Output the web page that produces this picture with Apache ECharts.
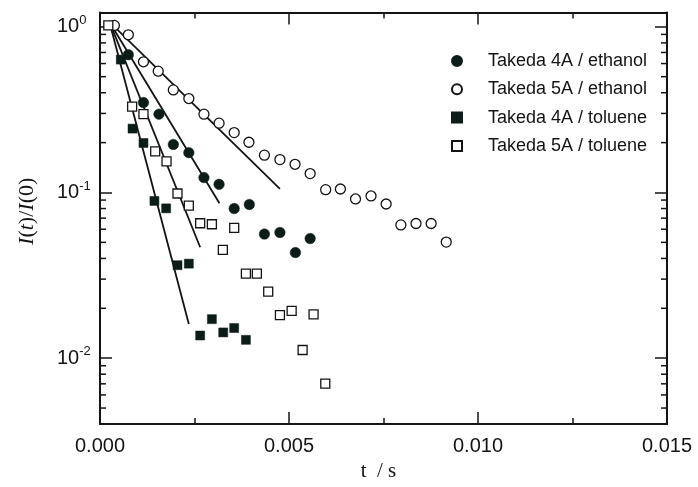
<!DOCTYPE html>
<html>
<head>
<meta charset="utf-8">
<script src="https://cdn.jsdelivr.net/npm/echarts@6/dist/echarts.min.js"></script>
<style>
html,body{margin:0;padding:0;background:#fff;}
#c{width:698px;height:487px;}
</style>
</head>
<body>
<div id="c"></div>
<script>
// ---- data (t in seconds, I(t)/I(0)) ----
var seriesNames = ['Takeda 4A / ethanol', 'Takeda 5A / ethanol', 'Takeda 4A / toluene', 'Takeda 5A / toluene'];

var t4AEth = [0.00075, 0.00115, 0.00156, 0.00194, 0.00235, 0.00275, 0.00315, 0.00355, 0.00395, 0.00435, 0.00476, 0.00517, 0.00556];
var v4AEth = [0.679, 0.349, 0.297, 0.195, 0.174, 0.123, 0.112, 0.080, 0.0847, 0.0561, 0.0574, 0.0434, 0.0527];

var t5AEth = [0.00038, 0.00075, 0.00115, 0.00154, 0.00194, 0.00235, 0.00275, 0.00315, 0.00355, 0.00394, 0.00435, 0.00476, 0.00516, 0.00556, 0.00597, 0.00636, 0.00676, 0.00717, 0.00757, 0.00796, 0.00836, 0.00876, 0.00916];
var v5AEth = [1.02, 0.895, 0.615, 0.54, 0.416, 0.369, 0.297, 0.262, 0.230, 0.201, 0.168, 0.158, 0.148, 0.130, 0.104, 0.105, 0.0914, 0.0953, 0.0852, 0.0637, 0.065, 0.065, 0.0502];

var t4ATol = [0.00055, 0.00086, 0.00115, 0.00144, 0.00175, 0.00205, 0.00235, 0.00265, 0.00296, 0.00326, 0.00355, 0.00386];
var v4ATol = [0.634, 0.243, 0.199, 0.0889, 0.0802, 0.0364, 0.0372, 0.0137, 0.0172, 0.0143, 0.0152, 0.0129];

var t5ATol = [0.00022, 0.00085, 0.00115, 0.00146, 0.00176, 0.00205, 0.00235, 0.00265, 0.00296, 0.00325, 0.00355, 0.00386, 0.00415, 0.00445, 0.00476, 0.00507, 0.00536, 0.00565, 0.00596];
var v5ATol = [1.02, 0.330, 0.297, 0.177, 0.154, 0.0986, 0.0832, 0.0652, 0.0643, 0.0451, 0.0611, 0.0324, 0.0324, 0.0252, 0.0182, 0.0193, 0.0112, 0.0184, 0.00702];

// exponential fit lines (start / end points)
var fit5AEthT = [0.00025, 0.00476];  var fit5AEthV = [1.07, 0.105];
var fit4AEthT = [0.00025, 0.00316];  var fit4AEthV = [1.07, 0.086];
var fit5ATolT = [0.00025, 0.00265];  var fit5ATolV = [1.07, 0.0467];
var fit4ATolT = [0.00025, 0.00235];  var fit4ATolV = [1.07, 0.0161];

// axis ranges and ticks
var xMin = 0, xMax = 0.015, xStep = 0.005;
var yMin = 0.004, yMax = 1.22;
var yMinorTicks = [0.005, 0.006, 0.007, 0.008, 0.009,
                   0.02, 0.03, 0.04, 0.05, 0.06, 0.07, 0.08, 0.09,
                   0.2, 0.3, 0.4, 0.5, 0.6, 0.7, 0.8, 0.9];

function zip(a, b) { return a.map(function (x, i) { return [x, b[i]]; }); }

var INK = '#141414';
var FILL = '#0c1d19';
var SANS = 'Liberation Sans, Arial, sans-serif';
var SERIF = 'Liberation Serif, Times New Roman, serif';

var chart = echarts.init(document.getElementById('c'), null, {renderer: 'canvas'});

function axisCommon() {
  return {
    axisLine: {show: true, onZero: false, lineStyle: {color: INK, width: 2}},
    axisTick: {show: true, inside: true, length: 12, lineStyle: {color: INK, width: 1.5}},
    splitLine: {show: false}
  };
}

var xBottom = Object.assign(axisCommon(), {
  type: 'value', min: xMin, max: xMax, interval: xStep, position: 'bottom',
  minorTick: {show: true, splitNumber: 2, length: 6, lineStyle: {color: INK, width: 1.5}},
  axisLabel: {show: true, margin: 12, fontSize: 20, fontFamily: SANS, color: INK,
    formatter: function (v) { return v.toFixed(3); }},
  name: 't  / s', nameLocation: 'middle', nameGap: 35,
  nameTextStyle: {fontFamily: SERIF, fontSize: 21, color: INK, padding: [0, 10, 0, 0]}
});
var xTop = Object.assign(axisCommon(), {
  type: 'value', min: xMin, max: xMax, interval: xStep, position: 'top',
  minorTick: {show: true, splitNumber: 2, length: 6, lineStyle: {color: INK, width: 1.5}},
  axisLabel: {show: false}
});
var yLeft = Object.assign(axisCommon(), {
  type: 'log', logBase: 10, min: yMin, max: yMax, position: 'left',
  axisLabel: {show: true, margin: 43, align: 'left', color: INK,
    formatter: function (v) {
      var l = Math.log10(v), e = Math.round(l);
      if (Math.abs(l - e) > 1e-6) return '';
      return '{b|10}{s|' + e + '}';
    },
    rich: {
      b: {fontSize: 20, fontFamily: SANS, color: INK, lineHeight: 26},
      s: {fontSize: 13, fontFamily: SANS, color: INK, lineHeight: 13, verticalAlign: 'top'}
    }
  },
  name: '{i|I}{n|(}{i|t}{n|)/}{i|I}{n|(0)}', nameLocation: 'middle', nameGap: 62, nameRotate: 90,
  nameTextStyle: {
    padding: [0, 0, 0, 14],
    rich: {
      i: {fontFamily: SERIF, fontStyle: 'italic', fontSize: 22, color: INK},
      n: {fontFamily: SERIF, fontSize: 22, color: INK}
    }
  }
});
var yRight = Object.assign(axisCommon(), {
  type: 'log', logBase: 10, min: yMin, max: yMax, position: 'right',
  axisLabel: {show: false}
});

function scatter(name, t, v, symbol, size, filled) {
  return {
    name: name, type: 'scatter', xAxisIndex: 0, yAxisIndex: 0,
    symbol: symbol, symbolSize: size, data: zip(t, v), z: 3,
    itemStyle: filled ? {color: FILL, borderColor: FILL, borderWidth: 0.5, opacity: 1}
                      : {color: '#ffffff', borderColor: INK, borderWidth: 1.3, opacity: 1},
    emphasis: {disabled: true}
  };
}
function fitLine(t, v) {
  return {
    type: 'line', xAxisIndex: 0, yAxisIndex: 0, data: zip(t, v),
    symbol: 'none', z: 2, silent: true,
    lineStyle: {color: INK, width: 1.8}
  };
}

var option = {
  backgroundColor: '#ffffff',
  animation: false,
  grid: {left: 100, right: 31, top: 12.5, bottom: 58.5, containLabel: false},
  xAxis: [xBottom, xTop],
  yAxis: [yLeft, yRight],
  legend: {
    data: seriesNames, orient: 'vertical', left: 446, top: 47,
    itemWidth: 10, itemHeight: 10, itemGap: 10.3,
    selectedMode: false,
    textStyle: {fontFamily: SANS, fontSize: 18, color: INK, lineHeight: 18, padding: [0, 0, 0, 21]}
  },
  series: [
    fitLine(fit5AEthT, fit5AEthV),
    fitLine(fit4AEthT, fit4AEthV),
    fitLine(fit5ATolT, fit5ATolV),
    fitLine(fit4ATolT, fit4ATolV),
    scatter(seriesNames[0], t4AEth, v4AEth, 'circle', 10.5, true),
    scatter(seriesNames[1], t5AEth, v5AEth, 'circle', 10, false),
    scatter(seriesNames[2], t4ATol, v4ATol, 'rect', 9, true),
    scatter(seriesNames[3], t5ATol, v5ATol, 'rect', 9, false),
    {
      type: 'custom', xAxisIndex: 0, yAxisIndex: 0, silent: true, clip: false, z: 5,
      data: yMinorTicks.map(function (v) { return [xMin, v]; }),
      renderItem: function (params, api) {
        var v = api.value(1);
        var p1 = api.coord([xMin, v]);
        var p2 = api.coord([xMax, v]);
        var st = {stroke: INK, lineWidth: 1.5};
        return {type: 'group', children: [
          {type: 'line', shape: {x1: p1[0], y1: p1[1], x2: p1[0] + 6, y2: p1[1]}, style: st},
          {type: 'line', shape: {x1: p2[0] - 6, y1: p2[1], x2: p2[0], y2: p2[1]}, style: st}
        ]};
      }
    }
  ]
};
chart.setOption(option);
</script>
</body>
</html>
